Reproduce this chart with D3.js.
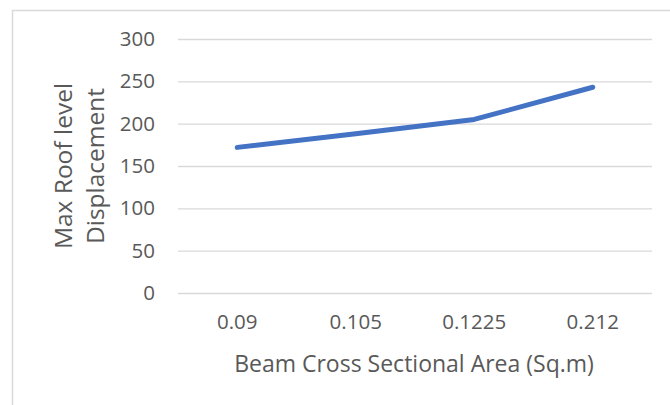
<!DOCTYPE html>
<html>
<head>
<meta charset="utf-8">
<script src="https://cdn.jsdelivr.net/npm/d3@7"></script>
<style>
  body { margin: 0; background: #fff; }
  text { font-family: "Open Sans", sans-serif; fill: #595959; }
</style>
</head>
<body>
<svg id="chart" width="670" height="405"></svg>
<script>
// data
let categories = ["0.09", "0.105", "0.1225", "0.212"];
let displacement = [172, 188, 205, 243];
let yTicks = [0, 50, 100, 150, 200, 250, 300];

let svg = d3.select("#chart");
let margin = {left: 178, right: 18, top: 39, bottom: 112};
let width = 670 - margin.left - margin.right;
let height = 405 - margin.top - margin.bottom;

// outer chart border (right/bottom edges are cropped in the reference)
svg.append("rect")
    .attr("x", 12.5).attr("y", 10.5)
    .attr("width", 700).attr("height", 500)
    .attr("fill", "none")
    .attr("stroke", "#d9d9d9")
    .attr("stroke-width", 1.5);

let g = svg.append("g").attr("transform", "translate(" + margin.left + "," + margin.top + ")");

let x = d3.scaleBand().domain(categories).range([0, width]);
let y = d3.scaleLinear().domain([0, 300]).range([height, 0]);

// gridlines + y labels
let yAxis = g.append("g").call(d3.axisLeft(y).tickValues(yTicks).tickSize(-width).tickPadding(23));
yAxis.select(".domain").remove();
yAxis.selectAll("line").attr("stroke", "#d9d9d9").attr("stroke-width", 1.3);
yAxis.selectAll("text").style("font-family", "'Open Sans', sans-serif").style("font-size", "20.5px").attr("fill", "#595959");

// x labels
let xAxis = g.append("g").attr("transform", "translate(0," + height + ")")
    .call(d3.axisBottom(x).tickSize(0).tickPadding(21));
xAxis.select(".domain").remove();
xAxis.selectAll("text").style("font-family", "'Open Sans', sans-serif").style("font-size", "20.5px").attr("fill", "#595959");

// the line
let line = d3.line()
    .x((d, i) => x(categories[i]) + x.bandwidth() / 2)
    .y(d => y(d));

g.append("path")
    .datum(displacement)
    .attr("fill", "none")
    .attr("stroke", "#4472c4")
    .attr("stroke-width", 5)
    .attr("stroke-linecap", "round")
    .attr("stroke-linejoin", "round")
    .attr("d", line);

// axis titles
svg.append("text")
    .attr("x", margin.left + width / 2 - 1)
    .attr("y", 372)
    .attr("text-anchor", "middle")
    .style("font-size", "23px")
    .text("Beam Cross Sectional Area (Sq.m)");

let yt = svg.append("text")
    .attr("transform", "translate(0," + (margin.top + height / 2) + ") rotate(-90)")
    .attr("text-anchor", "middle")
    .style("font-size", "24.5px");
yt.append("tspan").attr("x", 0).attr("y", 72).text("Max Roof level");
yt.append("tspan").attr("x", 0).attr("y", 103.5).text("Displacement");
</script>
</body>
</html>
